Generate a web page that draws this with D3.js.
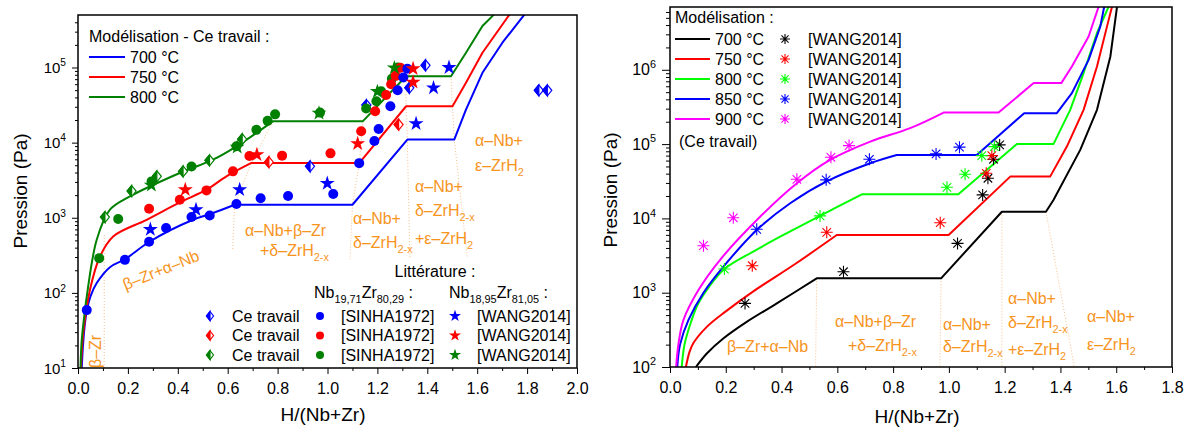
<!DOCTYPE html>
<html><head><meta charset="utf-8">
<script src="https://cdn.jsdelivr.net/npm/d3@7"></script>
<style>body{margin:0;background:#fff}svg text{font-family:"Liberation Sans",Arial,sans-serif}</style>
</head><body>
<svg id="c" width="1193" height="433"></svg>
<script>
// ================= DATA =================
// Left chart: modelled isotherms (x = H/(Nb+Zr), P in Pa)
const leftCurve700 = [[0.015,10],[0.02,20],[0.028,40],[0.037,62],[0.05,90],[0.075,135],[0.128,220],[0.188,280],[0.288,483],[0.461,940],[0.541,1156],[0.628,1490],[1.10,1490],[1.32,1.1e4],[1.508,1.1e4],[1.555,2.75e4],[1.621,8.5e4],[1.701,2.14e5],[1.79,5.1e5]];
const leftCurve750 = [[0.012,10],[0.021,29],[0.048,110],[0.088,305],[0.141,564],[0.275,940],[0.408,1600],[0.515,2360],[0.595,3556],[0.695,5360],[1.128,5360],[1.315,3.05e4],[1.501,3.05e4],[1.555,6.25e4],[1.621,1.57e5],[1.73,5.1e5]];
const leftCurve800 = [[0.01,10],[0.015,23.6],[0.028,59],[0.035,89],[0.075,509],[0.128,1280],[0.208,1923],[0.408,3945],[0.541,5930],[0.635,8930],[0.781,1.92e4],[1.141,1.92e4],[1.315,7.66e4],[1.495,7.66e4],[1.555,1.57e5],[1.621,3.56e5],[1.668,5.1e5]];
// Left chart: measured points
const sinha700 = [[0.035,59],[0.188,275],[0.285,479],[0.353,729],[0.455,1021],[0.528,1074],[0.635,1523],[0.732,1820],[0.842,1946],[1.023,2070],[1.127,5330],[1.188,1.05e4],[1.205,1.52e4],[1.252,3.05e4],[1.281,4.97e4],[1.304,7.36e4],[1.32,9.64e4]];
const wang700L = [[0.29,698],[0.473,1279],[0.648,2362],[0.999,2867],[1.355,1.79e4],[1.425,5.36e4],[1.487,1.0e5]];
const own700 = [[0.93,4830],[1.156,3.16e4],[1.328,5.36e4],[1.393,1.07e5],[1.847,4.97e4],[1.881,4.97e4]];
const sinha750 = [[0.285,1318],[0.408,1738],[0.515,2312],[0.621,4144],[0.687,6650],[0.818,6710],[1.012,7200],[1.135,1.42e4],[1.191,2.61e4],[1.235,4.3e4],[1.255,5.99e4],[1.273,7.74e4],[1.292,9.9e4]];
const wang750L = [[0.43,2362],[0.717,6920],[1.121,9700],[1.343,6.37e4],[1.343,9.64e4]];
const own750 = [[0.765,5500],[1.285,1.74e4]];
const sinha800 = [[0.085,290],[0.161,961],[0.295,3048],[0.455,4800],[0.635,8930],[0.715,1.48e4],[0.76,1.95e4],[0.79,2.38e4],[0.97,2.51e4],[1.155,2.84e4],[1.196,3.55e4],[1.215,4.83e4],[1.258,7.1e4],[1.282,1.0e5]];
const wang800L = [[0.294,2710],[0.638,8710],[0.966,2.47e4],[1.2,4.79e4],[1.268,9.9e4]];
const own800 = [[0.108,1021],[0.215,2270],[0.316,3556],[0.421,4140],[0.527,5810],[0.658,1.11e4]];
const leftLegendTemps = ['700 °C','750 °C','800 °C'];

// Right chart: modelled isotherms
const rightCurve700 = [[0.093,100],[0.132,152],[0.191,242],[0.275,405],[0.383,718],[0.526,1560],[0.972,1560],[1.19,1.23e4],[1.348,1.23e4],[1.375,1.77e4],[1.471,8.36e4],[1.531,2.89e5],[1.579,1.51e6],[1.603,7.1e6]];
const rightCurve750 = [[0.057,100],[0.07,160],[0.084,210],[0.132,347],[0.2,560],[0.3,1050],[0.45,2450],[0.598,5970],[0.999,5970],[1.22,3.65e4],[1.363,3.65e4],[1.423,9.25e4],[1.483,2.89e5],[1.531,1.11e6],[1.567,3.84e6],[1.585,7.1e6]];
const rightCurve800 = [[0.042,100],[0.052,200],[0.075,400],[0.1,700],[0.14,1200],[0.195,2080],[0.3,3600],[0.4,5800],[0.538,1.08e4],[0.688,2.11e4],[1.034,2.11e4],[1.244,1.0e5],[1.375,1.0e5],[1.435,2.89e5],[1.483,9.04e5],[1.531,3.13e6],[1.573,7.1e6]];
const rightCurve850 = [[0.026,100],[0.036,200],[0.066,427],[0.12,1000],[0.191,2230],[0.311,6980],[0.431,1.6e4],[0.56,3.13e4],[0.718,5.53e4],[0.813,7.14e4],[1.10,7.14e4],[1.27,2.61e5],[1.387,2.61e5],[1.441,4.85e5],[1.501,1.36e6],[1.543,3.84e6],[1.557,7.1e6]];
const rightCurve900 = [[0.022,100],[0.03,200],[0.048,427],[0.102,1084],[0.179,2754],[0.323,1.05e4],[0.455,2.97e4],[0.574,6.12e4],[0.718,1.08e5],[0.861,1.64e5],[0.981,2.66e5],[1.178,2.66e5],[1.304,6.62e5],[1.403,6.62e5],[1.441,1.11e6],[1.501,2.81e6],[1.537,7.1e6]];
// Right chart: [WANG2014] points
const wang700R = [[0.269,718],[0.622,1915],[1.031,4610],[1.121,2.07e4],[1.14,3.47e4],[1.16,6.25e4],[1.182,9.75e4]];
const wang750R = [[0.295,2305],[0.562,6500],[0.969,8750],[1.134,4.05e4],[1.154,7.0e4]];
const wang800R = [[0.195,2080],[0.538,1.08e4],[0.993,2.62e4],[1.058,3.93e4],[1.118,7.0e4],[1.163,9.25e4]];
const wang850R = [[0.311,7130],[0.56,3.3e4],[0.715,6.25e4],[0.954,7.38e4],[1.038,9.1e4]];
const wang900R = [[0.12,4290],[0.227,1.02e4],[0.455,3.36e4],[0.577,6.65e4],[0.642,9.55e4]];
const rightLegendTemps = ['700 °C','750 °C','800 °C','850 °C','900 °C'];

// Ticks
const leftXTicks = [0,0.2,0.4,0.6,0.8,1.0,1.2,1.4,1.6,1.8,2.0];
const rightXTicks = [0,0.2,0.4,0.6,0.8,1.0,1.2,1.4,1.6,1.8];
const leftYTicks = [1e1,1e2,1e3,1e4,1e5];
const rightYTicks = [1e2,1e3,1e4,1e5,1e6];

// ================= DRAW =================
const svg = d3.select('#c');
const ORANGE = '#f7941d';
const BLUE='#0000ff', RED='#ff0000', DGREEN='#008000', LGREEN='#00ff00', MAG='#ff00ff';
const FS = 16;

function rich(sel, parts, fs){
  let shift = 0;
  parts.forEach(([t,k])=>{
    const target = k==='sub' ? fs*0.32 : (k==='sup' ? -fs*0.45 : 0);
    sel.append('tspan').attr('dy', target-shift).attr('font-size', k==='n'?fs:fs*0.68).text(t);
    shift = target;
  });
  return sel;
}
function label(g, x, y, parts, fs, color, anchor){
  const t = g.append('text').attr('x',x).attr('y',y).attr('fill',color||'#000')
     .attr('font-size',fs).attr('text-anchor',anchor||'start');
  rich(t, parts, fs);
  return t;
}
function minorLog(lo, hi){
  const out=[];
  for(let k=Math.floor(Math.log10(lo)); k<=Math.ceil(Math.log10(hi)); k++)
    for(let m=2;m<=9;m++){ const v=m*Math.pow(10,k); if(v>lo && v<hi) out.push(v); }
  return out;
}
function axes(g, x, y, xt, yt, ymaj, ymin, yfs){
  const [y0] = y.range(), [x0] = x.range();
  const xa = g.append('g').attr('transform',`translate(0,${y0})`)
    .call(d3.axisBottom(x).tickValues(xt).tickSize(6).tickPadding(9).tickFormat(d3.format('.1f')));
  xa.select('.domain').remove();
  xa.selectAll('text').attr('font-size',16).attr('font-family',null);
  const xm = [];
  for(let i=0;i<xt.length-1;i++) xm.push((xt[i]+xt[i+1])/2);
  g.append('g').attr('transform',`translate(0,${y0})`)
    .call(d3.axisBottom(x).tickValues(xm).tickSize(3).tickFormat(''))
    .call(s=>s.select('.domain').remove());
  g.append('g').attr('transform',`translate(${x0},0)`)
    .call(d3.axisLeft(y).tickValues(yt).tickSize(ymaj).tickFormat(''))
    .call(s=>s.select('.domain').remove());
  const d = y.domain();
  g.append('g').attr('transform',`translate(${x0},0)`)
    .call(d3.axisLeft(y).tickValues(minorLog(d[0],d[1])).tickSize(ymin).tickFormat(''))
    .call(s=>s.select('.domain').remove());
  yt.forEach(v=>{
    label(g, x0-ymaj-6, y(v)+5.5, [['10','n'],[String(Math.round(Math.log10(v))),'sup']], yfs, '#000', 'end');
  });
  const r = x.range();
  g.append('rect').attr('x',r[0]).attr('y',y.range()[1]).attr('width',r[1]-r[0])
   .attr('height',y0-y.range()[1]).attr('fill','none').attr('stroke','#000').attr('stroke-width',1.5);
}
function drawCurve(g, x, y, pts, col){
  const i = pts.findIndex((d,k)=>k<pts.length-1 && pts[k+1][1]===d[1]);
  const smooth = d3.line().x(d=>x(d[0])).y(d=>y(d[1])).curve(d3.curveCatmullRom.alpha(0.5));
  const lin = d3.line().x(d=>x(d[0])).y(d=>y(d[1]));
  g.append('path').attr('d', smooth(pts.slice(0,i+1)) + lin(pts.slice(i)).replace(/^M/,'L'))
   .attr('fill','none').attr('stroke',col).attr('stroke-width',2).attr('stroke-linejoin','round');
}
function halfDiamond(g, cx, cy, color, hw, hh){
  const gg = g.append('g').attr('transform',`translate(${cx},${cy})`);
  gg.append('path').attr('d',`M0,${-hh}L${hw},0L0,${hh}L${-hw},0Z`).attr('fill','#fff').attr('stroke',color).attr('stroke-width',1.2);
  gg.append('path').attr('d',`M0,${-hh}L0,${hh}L${-hw},0Z`).attr('fill',color).attr('stroke',color).attr('stroke-width',1.2);
}
function asterisk(g, cx, cy, color, r){
  const p = [];
  [90,45,0,-45].forEach(a=>{const c=Math.cos(a*Math.PI/180)*r, s=Math.sin(a*Math.PI/180)*r; p.push(`M${cx-c},${cy-s}L${cx+c},${cy+s}`);});
  g.append('path').attr('d',p.join('')).attr('stroke',color).attr('stroke-width',1.1).attr('fill','none');
}
const starSym = (sz)=>d3.symbol(d3.symbolStar, sz)();

// ---------- LEFT CHART ----------
const xL = d3.scaleLinear([0,2],[78,577]);
const yL = d3.scaleLog([10,5e5],[368,15]);
const gL = svg.append('g');
svg.append('clipPath').attr('id','clipL').append('rect').attr('x',78).attr('y',15).attr('width',499).attr('height',353);
svg.append('clipPath').attr('id','clipR').append('rect').attr('x',670).attr('y',7).attr('width',502).attr('height',360);

const bndL = [
  [[0.105,10],[0.105,600]],
  [[0.781,1.92e4],[0.695,5360],[0.628,1490],[0.62,380]],
  [[1.141,1.92e4],[1.128,5360],[1.10,1490],[1.09,280]],
  [[1.315,7.66e4],[1.315,3.05e4],[1.32,1.1e4],[1.33,300]],
  [[1.495,7.66e4],[1.501,3.05e4],[1.508,1.1e4],[1.56,300]]
];
const lineL = d3.line().x(d=>xL(d[0])).y(d=>yL(d[1]));
const gBL = gL.append('g').attr('clip-path','url(#clipL)');
bndL.forEach(b=>gBL.append('path').attr('d',lineL(b)).attr('fill','none').attr('stroke','#f9c08a').attr('stroke-width',1).attr('stroke-dasharray','1,2'));
[[leftCurve700,BLUE],[leftCurve750,RED],[leftCurve800,DGREEN]].forEach(([c,col])=>drawCurve(gBL, xL, yL, c, col));

axes(gL, xL, yL, leftXTicks, leftYTicks, 6, 3, 15);

const gPL = gL.append('g');
label(gPL, 0,0, [['β–Zr','n']], 16, ORANGE).attr('transform','translate(101,368) rotate(-90)');
label(gPL, 0,0, [['β–Zr+α–Nb','n']], 16, ORANGE,'middle').attr('transform','translate(163,275) rotate(-22)');
label(gPL, 245,236, [['α–Nb+β–Zr','n']], 16, ORANGE);
label(gPL, 260,256, [['+δ–ZrH','n'],['2-x','sub']], 16, ORANGE);
label(gPL, 353,224, [['α–Nb+','n']], 16, ORANGE);
label(gPL, 353,248, [['δ–ZrH','n'],['2-x','sub']], 16, ORANGE);
label(gPL, 415,192, [['α–Nb+','n']], 16, ORANGE);
label(gPL, 415,216, [['δ–ZrH','n'],['2-x','sub']], 16, ORANGE);
label(gPL, 415,244, [['+ε–ZrH','n'],['2','sub']], 16, ORANGE);
label(gPL, 475,146, [['α–Nb+','n']], 16, ORANGE);
label(gPL, 475,171, [['ε–ZrH','n'],['2','sub']], 16, ORANGE);

const gML = gL.append('g');
function circles(g,data,col,x,y){ data.forEach(d=>g.append('circle').attr('cx',x(d[0])).attr('cy',y(d[1])).attr('r',5).attr('fill',col)); }
function stars(g,data,col,x,y){ data.forEach(d=>g.append('path').attr('d',starSym(70)).attr('transform',`translate(${x(d[0])},${y(d[1])})`).attr('fill',col)); }
function diamonds(g,data,col,x,y){ data.forEach(d=>halfDiamond(g,x(d[0]),y(d[1]),col,4.5,5.5)); }
diamonds(gML, own800, DGREEN, xL, yL);
diamonds(gML, own750, RED, xL, yL);
diamonds(gML, own700, BLUE, xL, yL);
circles(gML, sinha800, DGREEN, xL, yL);
circles(gML, sinha750, RED, xL, yL);
circles(gML, sinha700, BLUE, xL, yL);
stars(gML, wang800L, DGREEN, xL, yL);
stars(gML, wang750L, RED, xL, yL);
stars(gML, wang700L, BLUE, xL, yL);

label(gL, 89, 42, [['Modélisation - Ce travail :','n']], FS);
[BLUE,RED,DGREEN].forEach((c,i)=>{
  const yy = 57 + i*20;
  gL.append('line').attr('x1',89).attr('x2',125).attr('y1',yy).attr('y2',yy).attr('stroke',c).attr('stroke-width',2);
  label(gL, 130, yy+5.5, [[leftLegendTemps[i],'n']], FS);
});
label(gL, 435, 277, [['Littérature :','n']], FS, '#000', 'middle');
label(gL, 314, 298, [['Nb','n'],['19,71','sub'],['Zr','n'],['80,29','sub'],['  :','n']], FS);
label(gL, 449, 298, [['Nb','n'],['18,95','sub'],['Zr','n'],['81,05','sub'],['  :','n']], FS);
[BLUE,RED,DGREEN].forEach((c,i)=>{
  const yy = 316 + i*19.5;
  halfDiamond(gL, 210, yy, c, 3.5, 4.5);
  label(gL, 232, yy+5.5, [['Ce travail','n']], FS);
  gL.append('circle').attr('cx',320).attr('cy',yy).attr('r',4).attr('fill',c);
  label(gL, 341, yy+5.5, [['[SINHA1972]','n']], FS);
  gL.append('path').attr('d',starSym(45)).attr('transform',`translate(455,${yy})`).attr('fill',c);
  label(gL, 477, yy+5.5, [['[WANG2014]','n']], FS);
});
gL.append('text').attr('x',323).attr('y',421).attr('text-anchor','middle').attr('font-size',19).text('H/(Nb+Zr)');
gL.append('text').attr('transform','translate(27,191) rotate(-90)').attr('text-anchor','middle').attr('font-size',19).text('Pression (Pa)');

// ---------- RIGHT CHART ----------
const xR = d3.scaleLinear([0,1.8],[670,1172]);
const yR = d3.scaleLog([100,7e6],[367,7]);
const gR = svg.append('g');
const lineR = d3.line().x(d=>xR(d[0])).y(d=>yR(d[1]));
const gBR = gR.append('g').attr('clip-path','url(#clipR)');
const bndR = [
  [[0.526,1560],[0.522,100]],
  [[0.972,1560],[0.968,100]],
  [[1.19,1.23e4],[1.19,100]],
  [[1.348,1.23e4],[1.45,100]]
];
bndR.forEach(b=>gBR.append('path').attr('d',lineR(b)).attr('fill','none').attr('stroke','#f9c08a').attr('stroke-width',1).attr('stroke-dasharray','1,2'));
const rightColors = ['#000000',RED,LGREEN,BLUE,MAG];
[rightCurve700,rightCurve750,rightCurve800,rightCurve850,rightCurve900].forEach((c,i)=>drawCurve(gBR, xR, yR, c, rightColors[i]));
axes(gR, xR, yR, rightXTicks, rightYTicks, 8, 4, 16);

const gPR = gR.append('g');
label(gPR, 727,352, [['β–Zr+α–Nb','n']], 16, ORANGE);
label(gPR, 835,327, [['α–Nb+β–Zr','n']], 16, ORANGE);
label(gPR, 848,351, [['+δ–ZrH','n'],['2-x','sub']], 16, ORANGE);
label(gPR, 943,330, [['α–Nb+','n']], 16, ORANGE);
label(gPR, 943,352, [['δ–ZrH','n'],['2-x','sub']], 16, ORANGE);
label(gPR, 1008,304, [['α–Nb+','n']], 16, ORANGE);
label(gPR, 1008,328, [['δ–ZrH','n'],['2-x','sub']], 16, ORANGE);
label(gPR, 1008,355, [['+ε–ZrH','n'],['2','sub']], 16, ORANGE);
label(gPR, 1087,322, [['α–Nb+','n']], 16, ORANGE);
label(gPR, 1087,350, [['ε–ZrH','n'],['2','sub']], 16, ORANGE);

const gMR = gR.append('g');
[wang700R,wang750R,wang800R,wang850R,wang900R].forEach((arr,i)=>{
  arr.forEach(d=>asterisk(gMR, xR(d[0]), yR(d[1]), rightColors[i], 6));
});
label(gR, 675, 23, [['Modélisation :','n']], FS);
rightColors.forEach((c,i)=>{
  const yy = 39 + i*20;
  gR.append('line').attr('x1',675).attr('x2',710).attr('y1',yy).attr('y2',yy).attr('stroke',c).attr('stroke-width',2);
  label(gR, 715, yy+5.5, [[rightLegendTemps[i],'n']], FS);
  asterisk(gR, 785, yy, c, 5);
  label(gR, 808, yy+5.5, [['[WANG2014]','n']], FS);
});
label(gR, 679, 147, [['(Ce travail)','n']], FS);
gR.append('text').attr('x',917).attr('y',423).attr('text-anchor','middle').attr('font-size',19).text('H/(Nb+Zr)');
gR.append('text').attr('transform','translate(617,190) rotate(-90)').attr('text-anchor','middle').attr('font-size',19).text('Pression (Pa)');
</script>
</body></html>
